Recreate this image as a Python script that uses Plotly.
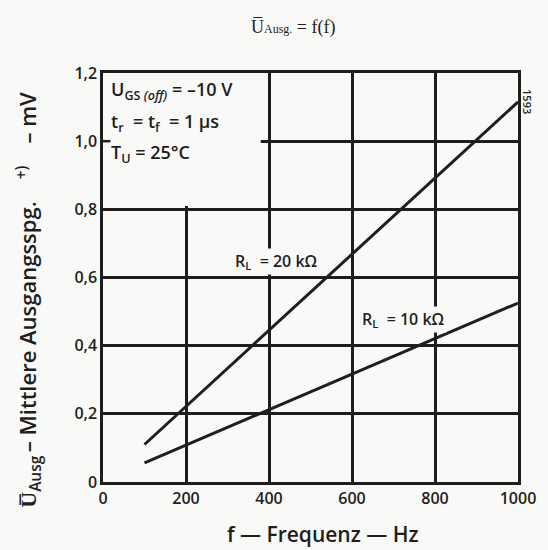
import plotly.graph_objects as go

# Data
freq_hz = [100, 1000]
u_20k = [0.11, 1.115]
u_10k = [0.056, 0.525]

x_ticks = [0, 200, 400, 600, 800, 1000]
x_ticktext = ["0", "200", "400", "600", "800", "1000"]
y_ticks = [0, 0.2, 0.4, 0.6, 0.8, 1.0, 1.2]
y_ticktext = ["0", "0,2", "0,4", "0,6", "0,8", "1,0", "1,2"]

INK = "#1e1e1e"
BG = "#f9f9f7"
FONT = "Open Sans"

fig = go.Figure()
fig.add_trace(go.Scatter(x=freq_hz, y=u_20k, mode="lines",
                         line=dict(color=INK, width=3), showlegend=False))
fig.add_trace(go.Scatter(x=freq_hz, y=u_10k, mode="lines",
                         line=dict(color=INK, width=3), showlegend=False))

axis_common = dict(showline=True, linecolor=INK, linewidth=2.5, mirror=True,
                   showgrid=True, gridcolor=INK, gridwidth=2.5, zeroline=False,
                   ticks="", tickfont=dict(family=FONT, size=16, color=INK, weight=600))

fig.update_xaxes(range=[0, 1000], tickvals=x_ticks, ticktext=x_ticktext, **axis_common)
fig.update_yaxes(range=[0, 1.2], tickvals=y_ticks, ticktext=y_ticktext, **axis_common)

# plain area for the parameter box (covers grid in upper-left)
fig.add_shape(type="rect", xref="x", yref="y", x0=0, x1=380, y0=0.81, y1=1.2,
              fillcolor=BG, line=dict(width=0), layer="between")
# left tick at 1,0
fig.add_shape(type="line", xref="x", yref="y", x0=0, x1=18, y0=1.0, y1=1.0,
              line=dict(color=INK, width=2.5), layer="between")

box_font = dict(family=FONT, size=18, color=INK, weight=600)
fig.add_annotation(xref="paper", yref="paper", x=0.015, y=0.958, xanchor="left", yanchor="middle",
                   text="U<sub>GS <i>(off)</i></sub> = –10 V", showarrow=False, font=box_font)
fig.add_annotation(xref="paper", yref="paper", x=0.015, y=0.878, xanchor="left", yanchor="middle",
                   text="t<sub>r</sub>  = t<sub>f</sub>  = 1 µs", showarrow=False, font=box_font)
fig.add_annotation(xref="paper", yref="paper", x=0.015, y=0.804, xanchor="left", yanchor="middle",
                   text="T<sub>U</sub> = 25°C", showarrow=False, font=box_font)

# curve labels
lab_font = dict(family=FONT, size=16, color=INK, weight=600)
fig.add_annotation(x=418, y=0.648, text="R<sub>L</sub>  = 20 kΩ", showarrow=False,
                   font=lab_font, bgcolor=BG, borderpad=1)
fig.add_annotation(x=724, y=0.478, text="R<sub>L</sub>  = 10 kΩ", showarrow=False,
                   font=lab_font, bgcolor=BG, borderpad=1)

# title
fig.add_annotation(xref="paper", yref="paper", x=0.457, y=1.112, xanchor="center", yanchor="middle",
                   text="U\u0305<span style='font-size:12px'>Ausg.</span> = f(f)", showarrow=False,
                   font=dict(family="Liberation Serif", size=18, color=INK))
# y-axis title
fig.add_annotation(xref="paper", yref="paper", x=-0.179, y=0.445, xanchor="center", yanchor="middle",
                   textangle=-90,
                   text="U\u0305<sub>Ausg</sub>\u2009– Mittlere Ausgangsspg.\u2003<sup>+)</sup>\u2003– mV",
                   showarrow=False, font=dict(family=FONT, size=22, color=INK, weight=600))
# x-axis title
fig.add_annotation(xref="paper", yref="paper", x=0.529, y=-0.126, xanchor="center", yanchor="middle",
                   text="f — Frequenz — Hz", showarrow=False,
                   font=dict(family=FONT, size=21, color=INK, weight=600))
# side code
fig.add_annotation(xref="paper", yref="paper", x=1.024, y=0.929, xanchor="center", yanchor="middle",
                   textangle=90, text="1593", showarrow=False,
                   font=dict(family=FONT, size=11, color=INK, weight=600))

fig.update_layout(width=548, height=550, margin=dict(l=103, r=19, t=73, b=68),
                  paper_bgcolor=BG, plot_bgcolor=BG, showlegend=False)

fig.write_html("out.html", config={"displayModeBar": False},
               post_script="document.body.style.margin='0px';"
                           "document.body.style.overflow='hidden';"
                           "document.documentElement.style.overflow='hidden';")
